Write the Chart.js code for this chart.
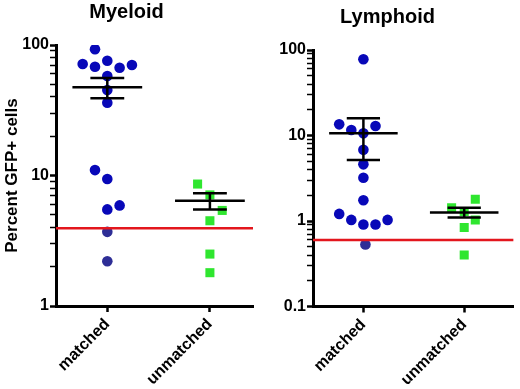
<!DOCTYPE html>
<html>
<head>
<meta charset="utf-8">
<script src="https://cdn.jsdelivr.net/npm/chart.js@4.4.0/dist/chart.umd.min.js"></script>
<style>
  body { margin: 0; background: #fff; width: 520px; height: 389px; overflow: hidden; position: relative; }
  canvas { position: absolute; top: 0; }
  #chart-myeloid { left: 0; }
  #chart-lymphoid { left: 260px; }
</style>
</head>
<body>
<canvas id="chart-myeloid" width="260" height="389"></canvas>
<canvas id="chart-lymphoid" width="260" height="389"></canvas>
<script>
const groups = ['matched', 'unmatched'];

// Myeloid panel
const myeloidMatched = [92.7, 71.5, 68.2, 75.8, 67.0, 70.3, 57.9, 45.2, 36.1, 11.0, 9.4, 5.5, 5.9, 3.7, 2.2];
const myeloidMatchedX = [-0.12, -0.24, -0.12, 0, 0.12, 0.24, 0, 0, 0, -0.12, 0, 0, 0.12, 0, 0];
const myeloidUnmatched = [8.6, 7.1, 5.4, 4.5, 2.5, 1.8];
const myeloidUnmatchedX = [0.88, 1, 1.12, 1, 1, 1];
const myeloidMean = [47.4, 6.4];
const myeloidSemLow = [39.0, 5.5];
const myeloidSemHigh = [55.9, 7.3];
const myeloidCutoff = 3.95;

// Lymphoid panel
const lymphoidMatched = [77.8, 13.5, 12.9, 11.6, 10.6, 6.8, 4.6, 3.2, 1.75, 1.21, 1.03, 0.91, 0.91, 1.03, 0.53];
const lymphoidMatchedX = [0, -0.24, 0.12, -0.12, 0, 0, 0, 0, 0, -0.24, -0.12, 0, 0.12, 0.24, 0.02];
const lymphoidUnmatched = [1.8, 1.43, 1.29, 1.03, 0.84, 0.4];
const lymphoidUnmatchedX = [1.11, 0.875, 1, 1.11, 1, 1];
const lymphoidMean = [10.6, 1.26];
const lymphoidSemLow = [5.17, 1.10];
const lymphoidSemHigh = [15.9, 1.43];
const lymphoidCutoff = 0.6;

const FONT = 'Liberation Sans, Arial, Helvetica, sans-serif';

function isPow10(v) {
  const l = Math.log10(v);
  return Math.abs(l - Math.round(l)) < 1e-9;
}

function logTicks(min, max) {
  const out = [];
  for (let e = Math.round(Math.log10(min)); e < Math.round(Math.log10(max)); e++) {
    for (let m = 1; m < 10; m++) out.push(m * Math.pow(10, e));
  }
  out.push(max);
  return out;
}

function meanSemPoints(mean, lo, hi) {
  const pts = [];
  mean.forEach((m, i) => {
    pts.push({ x: i - 0.34, y: m }, { x: i + 0.34, y: m }, { x: i, y: null });
    pts.push({ x: i - 0.165, y: hi[i] }, { x: i + 0.165, y: hi[i] }, { x: i, y: null });
    pts.push({ x: i - 0.165, y: lo[i] }, { x: i + 0.165, y: lo[i] }, { x: i, y: null });
    pts.push({ x: i, y: lo[i] }, { x: i, y: hi[i] }, { x: i, y: null });
  });
  return pts;
}

function makePanel(id, p) {
  const toXY = (xs, ys) => ys.map((y, i) => ({ x: xs[i], y: y }));
  new Chart(document.getElementById(id), {
    type: 'scatter',
    data: {
      datasets: [
        {
          data: meanSemPoints(p.mean, p.lo, p.hi),
          showLine: true,
          spanGaps: false,
          borderColor: '#000',
          borderWidth: 2.5,
          pointRadius: 0,
          order: 0
        },
        {
          data: [{ x: -0.5, y: p.cutoff }, { x: p.xMax, y: p.cutoff }],
          showLine: true,
          borderColor: '#e3161d',
          borderWidth: 2.5,
          pointRadius: 0,
          order: 1
        },
        {
          data: toXY(p.matchedX, p.matched),
          pointStyle: 'circle',
          pointRadius: 5.3,
          pointBorderWidth: 0,
          pointBackgroundColor: p.matched.map(v => v < p.cutoff ? '#2e2e96' : '#0808b8'),
          order: 2
        },
        {
          data: toXY(p.unmatchedX, p.unmatched),
          pointStyle: 'rect',
          pointRadius: 6.4,
          pointBorderWidth: 0,
          pointBackgroundColor: '#2fe62f',
          order: 2
        }
      ]
    },
    options: {
      responsive: false,
      animation: false,
      layout: { padding: { left: 0, right: p.padRight, top: 0, bottom: 0 } },
      plugins: {
        legend: { display: false },
        tooltip: { enabled: false },
        title: {
          display: true,
          text: p.title,
          color: '#000',
          font: { family: FONT, size: 20, weight: 'bold' },
          padding: { top: p.titleTop, bottom: 21 }
        }
      },
      scales: {
        x: {
          type: 'linear',
          min: -0.5,
          max: p.xMax,
          afterBuildTicks: s => { s.ticks = groups.map((g, i) => ({ value: i })); },
          afterFit: s => { s.height = p.xHeight; },
          ticks: {
            autoSkip: false,
            minRotation: 45,
            maxRotation: 45,
            padding: 3,
            color: '#000',
            font: { family: FONT, size: 16, weight: 'bold' },
            callback: v => groups[v]
          },
          grid: { drawOnChartArea: false, tickLength: 6, tickColor: '#000', tickWidth: 2.5 },
          border: { color: '#000', width: 3 }
        },
        y: {
          type: 'logarithmic',
          min: p.yMin,
          max: p.yMax,
          afterBuildTicks: s => { s.ticks = logTicks(p.yMin, p.yMax).map(v => ({ value: v, major: isPow10(v) })); },
          afterFit: s => { s.width = p.yWidth; },
          ticks: {
            autoSkip: false,
            padding: 1,
            color: '#000',
            font: { family: FONT, size: 16, weight: 'bold' },
            callback: v => isPow10(v) ? String(v) : ''
          },
          grid: {
            drawOnChartArea: false,
            tickLength: 6,
            tickColor: '#000',
            tickWidth: ctx => (ctx.tick && isPow10(ctx.tick.value)) ? 2.5 : 1.5
          },
          border: { color: '#000', width: 3 },
          title: {
            display: p.yTitle !== '',
            text: p.yTitle,
            color: '#000',
            font: { family: FONT, size: 17, weight: 'bold' },
            padding: { top: 2, bottom: 0 }
          }
        }
      }
    }
  });
}

makePanel('chart-myeloid', {
  title: 'Myeloid', titleTop: 0, yTitle: 'Percent GFP+ cells',
  matched: myeloidMatched, matchedX: myeloidMatchedX,
  unmatched: myeloidUnmatched, unmatchedX: myeloidUnmatchedX,
  mean: myeloidMean, lo: myeloidSemLow, hi: myeloidSemHigh, cutoff: myeloidCutoff,
  yMin: 1, yMax: 100, xMax: 1.42, yWidth: 56, xHeight: 83, padRight: 7
});

makePanel('chart-lymphoid', {
  title: 'Lymphoid', titleTop: 5, yTitle: '',
  matched: lymphoidMatched, matchedX: lymphoidMatchedX,
  unmatched: lymphoidUnmatched, unmatchedX: lymphoidUnmatchedX,
  mean: lymphoidMean, lo: lymphoidSemLow, hi: lymphoidSemHigh, cutoff: lymphoidCutoff,
  yMin: 0.1, yMax: 100, xMax: 1.49, yWidth: 53, xHeight: 82.5, padRight: 5
});
</script>
</body>
</html>
